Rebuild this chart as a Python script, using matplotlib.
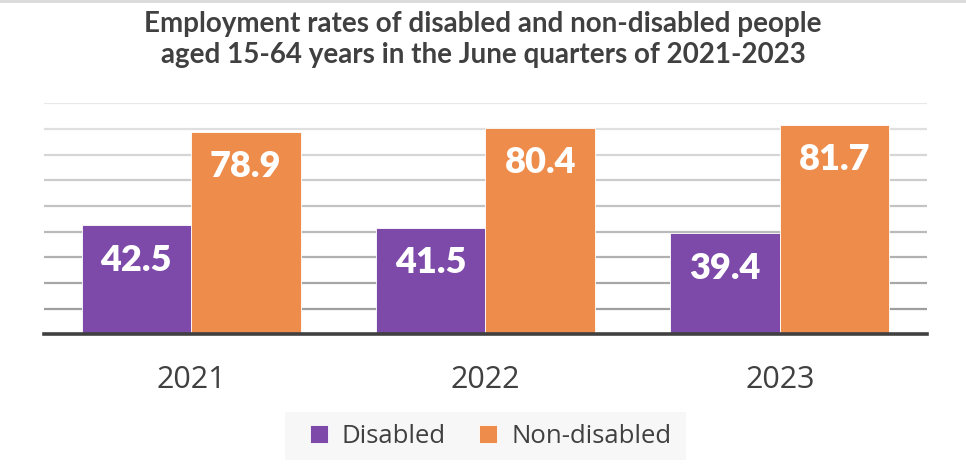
import matplotlib
matplotlib.use("Agg")
import matplotlib.pyplot as plt
from matplotlib.patches import Rectangle
import numpy as np

years = ["2021", "2022", "2023"]
disabled = [42.5, 41.5, 39.4]
non_disabled = [78.9, 80.4, 81.7]
series_names = ["Disabled", "Non-disabled"]
title = "Employment rates of disabled and non-disabled people\naged 15-64 years in the June quarters of 2021-2023"

purple = "#7D4AA9"
orange = "#EE8C4C"
text_col = "#404040"

fig = plt.figure(figsize=(9.66, 4.71), dpi=100)
ax = fig.add_axes([0.0455, 0.2902, 0.9141, 0.4905])

x = np.arange(len(years))
w = 0.372
b1 = ax.bar(x - w / 2, disabled, width=w, color=purple, edgecolor="white", linewidth=0.6, zorder=3, label=series_names[0])
b2 = ax.bar(x + w / 2, non_disabled, width=w, color=orange, edgecolor="white", linewidth=0.6, zorder=3, label=series_names[1])

ax.set_xlim(-0.5, 2.5)
ax.set_ylim(0, 90)

# gridlines with gradient grey (light at top, darker at bottom)
levels = np.arange(10, 91, 10)
for lv in levels:
    t = (lv - 10) / 80.0
    g = 0.62 + t * (0.91 - 0.62)
    ax.axhline(lv, color=(g, g, g), linewidth=1.6, zorder=1)

for s in ["top", "right", "left"]:
    ax.spines[s].set_visible(False)
ax.spines["bottom"].set_color(text_col)
ax.spines["bottom"].set_linewidth(2.6)
ax.spines["bottom"].set_zorder(4)

ax.set_yticks([])
ax.set_xticks(x)
ax.set_xticklabels(years, fontsize=22, color=text_col, family=["Open Sans", "DejaVu Sans"])
ax.tick_params(axis="x", length=0, pad=22)

for bars, vals in ((b1, disabled), (b2, non_disabled)):
    for rect, v in zip(bars, vals):
        cx = rect.get_x() + rect.get_width() / 2
        ax.text(cx, v - 13.6, f"{v:.1f}", ha="center", va="center", color="white",
                fontsize=26, fontweight="heavy", family=["Lato", "DejaVu Sans"], zorder=5)

fig.text(0.5, 0.916, title, ha="center", va="center", fontsize=20, fontweight="bold",
         color=text_col, family=["Lato", "DejaVu Sans"], linespacing=1.25)

# legend background box
fig.add_artist(Rectangle((0.295, 0.0234), 0.415, 0.102, transform=fig.transFigure,
                         facecolor="#f7f7f7", edgecolor="none", zorder=0))

leg = fig.legend(handles=[b1, b2], labels=series_names, loc="center", bbox_to_anchor=(0.508, 0.074),
                 ncol=2, frameon=False, handlelength=0.7, handleheight=0.7,
                 handletextpad=0.55, columnspacing=1.3, borderpad=0.3,
                 prop={"family": ["Open Sans", "DejaVu Sans"], "size": 18.5})
for t in leg.get_texts():
    t.set_color(text_col)

fig.add_artist(plt.Line2D([0, 1], [0.998, 0.998], color="#d9d9d9", linewidth=2, transform=fig.transFigure))

fig.savefig("out.png", dpi=100)
